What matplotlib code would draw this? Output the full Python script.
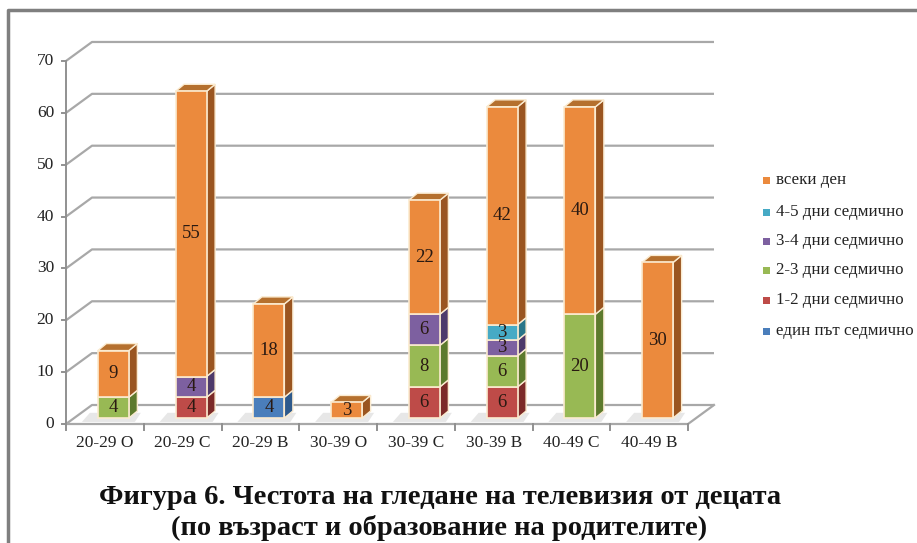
import matplotlib
matplotlib.use("Agg")
import matplotlib.pyplot as plt
from matplotlib.patches import Polygon, Rectangle
from matplotlib.lines import Line2D

plt.rcParams['font.family'] = ['Liberation Serif', 'DejaVu Serif']

# ---- data ----
categories = ['20-29 О', '20-29 С', '20-29 В', '30-39 О', '30-39 С', '30-39 В', '40-49 С', '40-49 В']
series_names = ['един път седмично', '1-2 дни седмично', '2-3 дни седмично',
                '3-4 дни седмично', '4-5 дни седмично', 'всеки ден']
once_week = [0, 0, 4, 0, 0, 0, 0, 0]
days_1_2 = [0, 4, 0, 0, 6, 6, 0, 0]
days_2_3 = [4, 0, 0, 0, 8, 6, 20, 0]
days_3_4 = [0, 4, 0, 0, 6, 3, 0, 0]
days_4_5 = [0, 0, 0, 0, 0, 3, 0, 0]
every_day = [9, 55, 18, 3, 22, 42, 40, 30]
series_values = [once_week, days_1_2, days_2_3, days_3_4, days_4_5, every_day]
y_ticks = [0, 10, 20, 30, 40, 50, 60, 70]

# colors: front, side, top
colors = [
    ('#4A7EBB', '#2E5A8C', '#3C6BA3'),
    ('#BE4B48', '#7C2A28', '#9A3A37'),
    ('#98B954', '#5D7A2D', '#7A9A3F'),
    ('#7D60A0', '#4E3A6B', '#654D86'),
    ('#46AAC5', '#2A7689', '#3790A8'),
    ('#EB8A3D', '#9A5520', '#B5702E'),
]

# ---- geometry (pixels) ----
W, H = 917, 543
X0, Y0 = 66, 424          # origin of the front axes
CAT = 77.75               # px per category
UNIT = 5.186              # px per value unit

fig = plt.figure(figsize=(W / 100, H / 100), dpi=100)
ax = fig.add_axes([0, 0, 1, 1])
ax.set_xlim(-X0 / CAT, (W - X0) / CAT)
ax.set_ylim(-(H - Y0) / UNIT, Y0 / UNIT)
ax.axis('off')

n = len(categories)
wall_dx, wall_dy = 26 / CAT, 19 / UNIT     # depth of the back wall
bar_dx, bar_dy = 8.5 / CAT, 6 / UNIT       # bar placed inside the depth
dep_dx, dep_dy = 8.5 / CAT, 7 / UNIT       # bar's own depth
bar_w = 31 / CAT
grid_c = '#A8A8A8'

# back wall gridlines
for v in y_ticks:
    ax.plot([0, wall_dx, n + wall_dx], [v, v + wall_dy, v + wall_dy],
            color=grid_c, lw=1.6, zorder=1, solid_capstyle='butt')
# floor
ax.plot([0, n, n + wall_dx], [0, 0, wall_dy], color=grid_c, lw=1.6, zorder=1)
# front y axis
ax.plot([0, 0], [0, y_ticks[-1]], color='#909090', lw=1.4, zorder=2)
for v in y_ticks:
    ax.plot([-4 / CAT, 0], [v, v], color='#909090', lw=1.4, zorder=2)
    ax.text(-12 / CAT, v, str(v), ha='right', va='center', fontsize=12.5, color='#222222')
# x ticks
for i in range(n + 1):
    ax.plot([i, i], [0, -6 / UNIT], color='#909090', lw=1.4, zorder=2)
for i, c in enumerate(categories):
    ax.text(i + 0.5, -19 / UNIT, c, ha='center', va='center', fontsize=12.5, color='#222222')

# bars
for i in range(n):
    x0 = i + 0.5 - bar_w / 2 + bar_dx
    x1 = x0 + bar_w
    base = bar_dy
    # soft floor shadow
    ax.add_patch(Polygon([(x0 - 16 / CAT, 0.4), (x1 + 6 / CAT, 0.4),
                          (x1 + 12 / CAT, base + 1.0), (x0 - 8 / CAT, base + 1.0)],
                         closed=True, facecolor='#BBBBBB', edgecolor='none',
                         alpha=0.35, zorder=3))
    top_idx = max(k for k in range(len(series_values)) if series_values[k][i] > 0)
    for k, vals in enumerate(series_values):
        v = vals[i]
        if v <= 0:
            continue
        front, side, topc = colors[k]
        yb, yt = base, base + v
        ax.add_patch(Rectangle((x0, yb), bar_w, v, facecolor=front,
                               edgecolor='#FBEBD0', lw=1.2, zorder=5))
        ax.add_patch(Polygon([(x1, yb), (x1 + dep_dx, yb + dep_dy),
                              (x1 + dep_dx, yt + dep_dy), (x1, yt)],
                             closed=True, facecolor=side, edgecolor='#FBEBD0',
                             lw=1.0, zorder=4))
        if k == top_idx:
            ax.add_patch(Polygon([(x0, yt), (x0 + dep_dx, yt + dep_dy),
                                  (x1 + dep_dx, yt + dep_dy), (x1, yt)],
                                 closed=True, facecolor=topc, edgecolor='#FBEBD0',
                                 lw=1.0, zorder=4))
        ax.text((x0 + x1) / 2, (yb + yt) / 2, str(v), ha='center', va='center',
                fontsize=13.5, color='#2A1A12', zorder=6)
        base = yt

# legend (top entry = last series)
leg_y = [180, 212, 241, 270, 300, 331]
for row, k in enumerate(reversed(range(len(series_names)))):
    py = leg_y[row]
    fig.patches.append(Rectangle((763 / W, 1 - (py + 3.5) / H), 7 / W, 7 / H,
                                 transform=fig.transFigure, facecolor=colors[k][0],
                                 edgecolor='none'))
    fig.text(776 / W, 1 - py / H, series_names[k], ha='left', va='center',
             fontsize=12.2, color='#222222')

# caption
fig.text(440 / W, 1 - 497 / H, 'Фигура 6. Честота на гледане на телевизия от децата',
         ha='center', va='center', fontsize=20.5, fontweight='bold', color='#111111')
fig.text(439 / W, 1 - 528 / H, '(по възраст и образование на родителите)',
         ha='center', va='center', fontsize=20.5, fontweight='bold', color='#111111')

# chart border (left and top visible)
fig.lines.append(Line2D([8 / W, 8 / W, 1], [0, 1 - 10 / H, 1 - 10 / H],
                        transform=fig.transFigure, color='#7F7F7F', lw=2.5))

fig.savefig('out.png', dpi=100, facecolor='white')
